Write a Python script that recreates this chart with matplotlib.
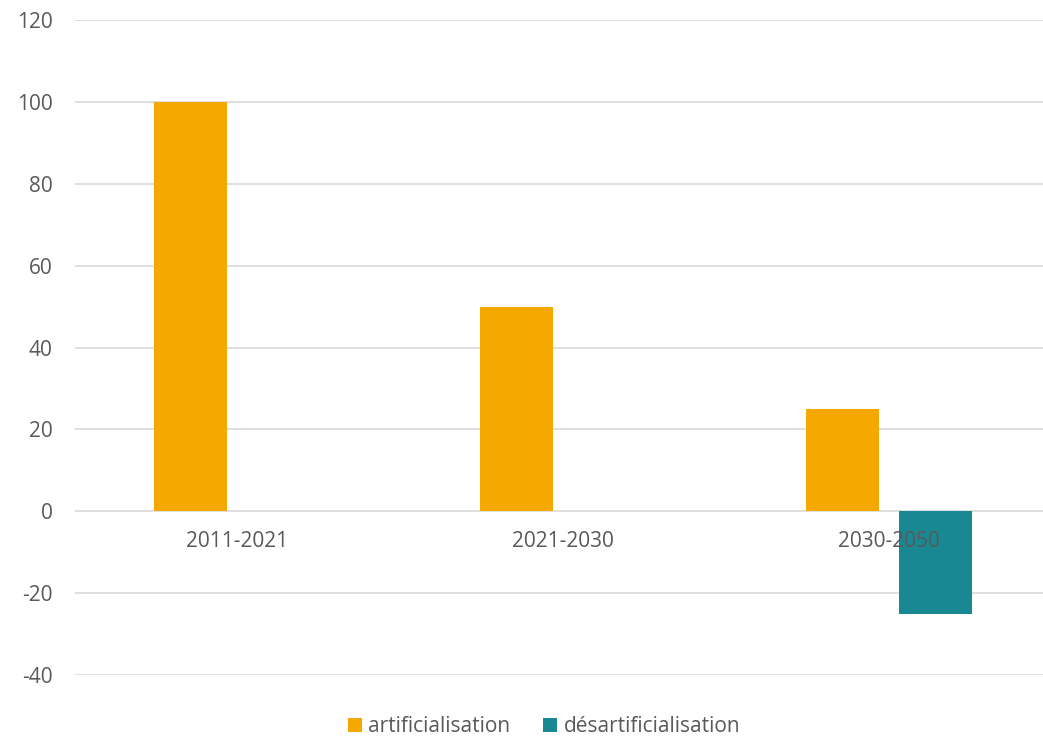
import matplotlib
matplotlib.use("Agg")
import matplotlib.pyplot as plt
import matplotlib.transforms as mtransforms
import numpy as np
from matplotlib.patches import Patch

categories = ["2011-2021", "2021-2030", "2030-2050"]
artificialisation = [100, 50, 25]
desartificialisation = [0, 0, -25]
series_names = ["artificialisation", "désartificialisation"]
yticks = [-40, -20, 0, 20, 40, 60, 80, 100, 120]

orange = "#F5A800"
teal = "#188893"
gray = "#595959"
grid = "#D9D9D9"

plt.rcParams['font.family'] = ['Open Sans', 'DejaVu Sans']

W, H = 1043, 737
fig = plt.figure(figsize=(W / 100, H / 100), dpi=100)
ax = fig.add_axes([75 / W, (H - 675) / H, (1043 - 75) / W, (675 - 20) / H])

x = np.arange(len(categories))
bw = 0.224
off = 0.142
ax.bar(x - off, artificialisation, bw, color=orange, zorder=3)
ax.bar(x + off, desartificialisation, bw, color=teal, zorder=3)

ax.set_xlim(-0.497, 2.472)
ax.set_ylim(-40, 120)
ax.set_yticks(yticks)
ax.set_yticklabels([str(v) for v in yticks])
ax.yaxis.grid(True, color=grid, linewidth=1.2, zorder=0)
ax.set_axisbelow(True)

for s in ["top", "right", "left", "bottom"]:
    ax.spines[s].set_visible(False)

ax.set_xticks([])
ax.tick_params(axis="y", length=0, pad=16, labelsize=15, labelcolor=gray)

trans = mtransforms.offset_copy(ax.transData, fig=fig, x=0, y=-30, units="dots")
for xi, lab in zip(x, categories):
    ax.text(xi, 0, lab, transform=trans, ha="center", va="center", fontsize=15,
            color=gray, zorder=5)

handles = [Patch(facecolor=orange, edgecolor="none"), Patch(facecolor=teal, edgecolor="none")]
leg = fig.legend(handles, series_names, loc="center", bbox_to_anchor=(544 / W, (H - 727) / H),
                 ncol=2, frameon=False, fontsize=15, handlelength=0.67, handleheight=0.67,
                 handletextpad=0.3, columnspacing=1.6, borderaxespad=0)
for t in leg.get_texts():
    t.set_color(gray)

fig.savefig("out.png", dpi=100)
